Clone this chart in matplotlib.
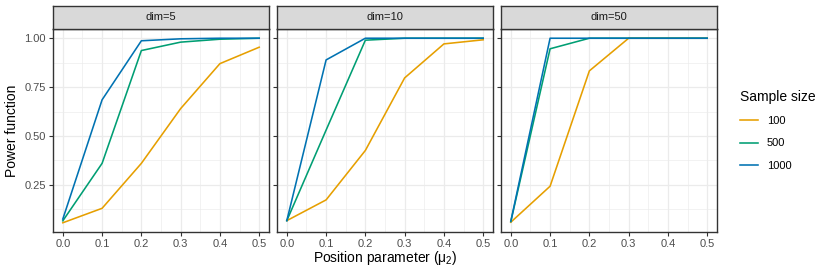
import matplotlib
matplotlib.use("Agg")
import matplotlib.pyplot as plt
import numpy as np

plt.rcParams['font.family'] = ['Liberation Sans', 'DejaVu Sans']
plt.rcParams['mathtext.fontset'] = 'custom'
plt.rcParams['mathtext.rm'] = 'Liberation Sans'
plt.rcParams['mathtext.it'] = 'Liberation Sans'

# Datos
mu2 = [0.0, 0.1, 0.2, 0.3, 0.4, 0.5]
dims = ['dim=5', 'dim=10', 'dim=50']
sample_sizes = ['100', '500', '1000']
colores = ['#E69F00', '#009E73', '#0072B2']

potencia_dim5 = [
    [0.056, 0.13, 0.36, 0.64, 0.87, 0.954],   # n=100
    [0.066, 0.36, 0.937, 0.98, 0.995, 1.0],   # n=500
    [0.075, 0.685, 0.987, 0.997, 1.0, 1.0],   # n=1000
]
potencia_dim10 = [
    [0.067, 0.173, 0.426, 0.797, 0.971, 0.992],
    [0.067, 0.53, 0.99, 1.0, 1.0, 1.0],
    [0.067, 0.889, 1.0, 1.0, 1.0, 1.0],
]
potencia_dim50 = [
    [0.059, 0.243, 0.833, 1.0, 1.0, 1.0],
    [0.062, 0.946, 1.0, 1.0, 1.0, 1.0],
    [0.064, 1.0, 1.0, 1.0, 1.0, 1.0],
]
potencias = [potencia_dim5, potencia_dim10, potencia_dim50]

# Rango del eje y con expansión del 5% (como ggplot)
todos = np.array(potencias).ravel()
ymin, ymax = todos.min(), todos.max()
pad = 0.05 * (ymax - ymin)

W, H = 830, 277
fig = plt.figure(figsize=(W / 100, H / 100), dpi=100)

lefts = [53, 277, 501]
ancho = 216
abajo, arriba, tira = 232, 29, 6

gris_borde = '#333333'
for i, (nombre, datos) in enumerate(zip(dims, potencias)):
    ax = fig.add_axes([lefts[i] / W, (H - abajo) / H, ancho / W, (abajo - arriba) / H])
    for serie, color, lab in zip(datos, colores, sample_sizes):
        ax.plot(mu2, serie, color=color, lw=1.15, label=lab, zorder=3)
    ax.set_xlim(-0.025, 0.525)
    ax.set_ylim(ymin - pad, ymax + pad)
    ax.set_xticks(mu2)
    ax.set_xticklabels([f'{v:.1f}' for v in mu2])
    ax.set_xticks([0.05, 0.15, 0.25, 0.35, 0.45], minor=True)
    ax.set_yticks([0.25, 0.5, 0.75, 1.0])
    ax.set_yticks([0.125, 0.375, 0.625, 0.875], minor=True)
    if i == 0:
        ax.set_yticklabels(['0.25', '0.50', '0.75', '1.00'])
    else:
        ax.set_yticklabels([])
    ax.grid(which='major', color='#EBEBEB', lw=0.9, zorder=0)
    ax.grid(which='minor', color='#EBEBEB', lw=0.45, zorder=0)
    ax.set_axisbelow(True)
    ax.tick_params(which='major', length=3, width=0.8, color=gris_borde,
                   labelsize=8, labelcolor='#4D4D4D', pad=2)
    ax.tick_params(which='minor', length=0)
    for s in ax.spines.values():
        s.set_color(gris_borde)
        s.set_linewidth(1.0)

    # Tira del facet
    st = fig.add_axes([lefts[i] / W, (H - arriba) / H, ancho / W, (arriba - tira) / H])
    st.set_facecolor('#D9D9D9')
    st.set_xticks([])
    st.set_yticks([])
    for s in st.spines.values():
        s.set_color(gris_borde)
        s.set_linewidth(1.0)
    st.text(0.5, 0.5, nombre, ha='center', va='center', fontsize=8,
            color='#1A1A1A', transform=st.transAxes)

fig.text(12 / W, 1 - ((arriba + abajo) / 2) / H, 'Power function', rotation=90,
         ha='center', va='center', fontsize=10)
fig.text((lefts[0] + lefts[2] + ancho) / 2 / W, 1 - 258 / H,
         r'Position parameter ($\mu_2$)', ha='center', va='center', fontsize=10)

handles, labels = ax.get_legend_handles_labels()
leg = fig.legend(handles, labels, title='Sample size', loc='upper left',
                 bbox_to_anchor=(730 / W, 1 - 80 / H), frameon=False,
                 fontsize=8, title_fontsize=10, handlelength=1.6,
                 handletextpad=0.8, labelspacing=1.1, alignment='left')

fig.savefig('out.png', dpi=100)
